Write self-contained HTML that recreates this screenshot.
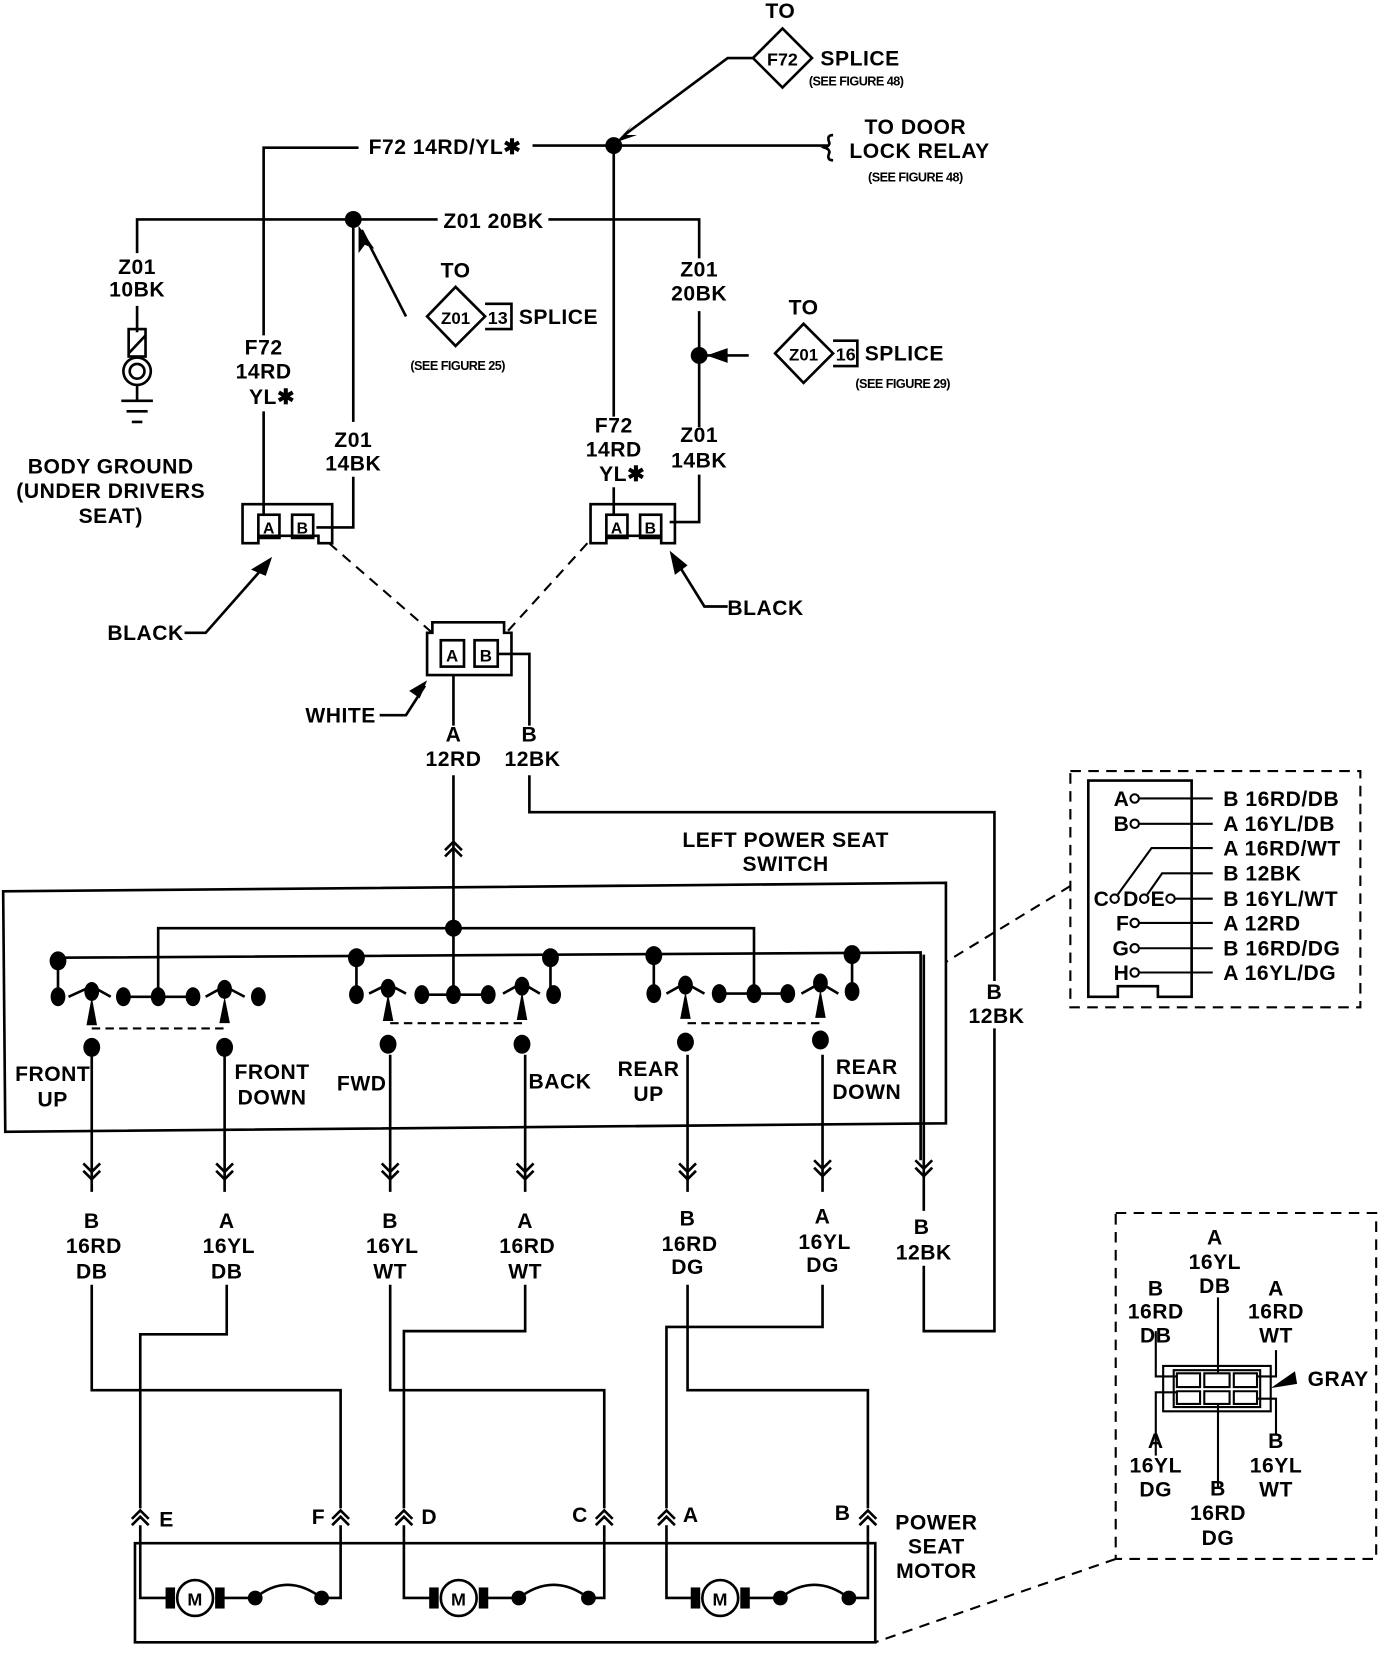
<!DOCTYPE html>
<html><head><meta charset="utf-8"><style>
html,body{margin:0;padding:0;background:#fff}
svg{display:block}
text{font-family:"Liberation Sans Narrow","Liberation Sans",sans-serif;font-size:20px;font-weight:bold;fill:#000;text-anchor:middle;letter-spacing:0.5px}
.s{font-size:12px;font-weight:bold;letter-spacing:-0.5px}
.l{text-anchor:start}
.e{text-anchor:end}
</style></head><body>
<svg width="1392" height="1656" viewBox="0 0 1320 1570" preserveAspectRatio="none" xmlns="http://www.w3.org/2000/svg">
<g fill="none" stroke="#000" stroke-width="2.5">
<path d="M742 27 L770 55 L742 83 L714 55 Z"/>
<path d="M714 55 H690 L592 128"/>
<path d="M250 488 V390 M250 318 V140 H340 M505 138 H785"/>
<path d="M790 128 q-6 0 -4 6 q2 4 -4 6 q6 2 4 6 q-2 6 4 6"/>
<path d="M582 138 V395 M582 462 V488"/>
<path d="M130 240 V208 H415 M520 208 H663 V245 M663 295 V405 M663 450 V495 H635"/>
<path d="M335 208 V400 M335 452 V500 H300"/>
<path d="M385 300 L343 218"/>
<path d="M405 300 L432 272 L460 300 L432 328 Z M460 288 H485 V312 H460"/>
<path d="M710 337 H670"/>
<path d="M735 335 L762 307 L790 335 L762 363 Z M790 323 H813 V347 H790"/>
<path d="M130 290 V315 M130 365 V380 M115 380 H145 M120 390 H140 M125 400 H135"/>
<rect x="122" y="312" width="16" height="26"/>
<path d="M122 335 L138 318"/>
<circle cx="130" cy="352" r="13"/><circle cx="130" cy="352" r="7"/>
<path d="M230 478 H315 V515 H302 V508 H245 V515 H230 Z"/>
<rect x="245" y="488" width="20" height="22"/><rect x="277" y="488" width="20" height="22"/>
<path d="M560 478 H640 V515 H627 V508 H575 V515 H560 Z"/>
<rect x="575" y="488" width="20" height="22"/><rect x="607" y="488" width="20" height="22"/>
<path d="M405 600 H410 V590 H478 V600 H485 V640 H405 Z"/>
<rect x="418" y="607" width="22" height="25"/><rect x="450" y="607" width="22" height="25"/>
<path d="M312 515 L410 600 M557 515 L480 600 M1015 840 L897 912 M1058 1478 L830 1557 M1015 731 H1290 V955 H1015 Z M1058 1150 H1305 V1478 H1058 Z" stroke-dasharray="10 7" stroke-width="2"/>
<path d="M175 600 H195 L255 532 M690 575 H668 L637 525 M360 678 H385 L403 650"/>
<path d="M430 640 V688 M430 735 V840 M472 620 H502 V688 M502 735 V770 H943 V930 M943 975 V1262 H876 V1200 M876 1148 V1062 V905"/>
<path d="M422 806 L430 798 L438 806 M422 812 L430 804 L438 812"/>
<path d="M3 845 L897 837 V1065 L5 1073 Z"/>
<path d="M430 840 V942 M150 945 V880 H715 V942"/>
<path d="M55 908 L873 903 V1100 M55 908 V942 M338 908 V942 M522 908 V942 M620 905 V942 M808 905 V942"/>
<path d="M117 945 H183 M400 943 H463 M682 942 H747"/>
<path d="M87 1000 V1130 M213 1000 V1130 M370 1000 V1130 M498 1000 V1130 M652 1000 V1130 M780 1000 V1130"/>
<path d="M87 975 H213 M370 970 H495 M652 970 H778" stroke-dasharray="8 5" stroke-width="2"/>
<path d="M65 945 L87 935 L105 945 M195 945 L213 935 L232 945 M350 942 L368 933 L385 942 M477 942 L495 932 L512 942 M632 942 L650 932 L668 942 M760 942 L778 932 L795 942"/>
<path d="M79 1103 L87 1111 L95 1103 M79 1110 L87 1118 L95 1110 M205 1103 L213 1111 L221 1103 M205 1110 L213 1118 L221 1110 M362 1103 L370 1111 L378 1103 M362 1110 L370 1118 L378 1110 M490 1103 L498 1111 L506 1103 M490 1110 L498 1118 L506 1110 M644 1103 L652 1111 L660 1103 M644 1110 L652 1118 L660 1110 M772 1100 L780 1108 L788 1100 M772 1107 L780 1115 L788 1107 M868 1100 L876 1108 L884 1100 M868 1107 L876 1115 L884 1107"/>
<path d="M87 1218 V1318 H323 V1430 M215 1218 V1265 H133 V1430 M370 1218 V1318 H573 V1430 M498 1218 V1262 H383 V1430 M652 1218 V1318 H823 V1430 M780 1218 V1258 H632 V1430"/>
<path d="M125 1440 L133 1432 L141 1440 M125 1446 L133 1438 L141 1446 M315 1440 L323 1432 L331 1440 M315 1446 L323 1438 L331 1446 M375 1440 L383 1432 L391 1440 M375 1446 L383 1438 L391 1446 M565 1440 L573 1432 L581 1440 M565 1446 L573 1438 L581 1446 M624 1440 L632 1432 L640 1440 M624 1446 L632 1438 L640 1446 M815 1440 L823 1432 L831 1440 M815 1446 L823 1438 L831 1446"/>
<path d="M128 1463 H830 V1557 H128 Z"/>
<path d="M133 1446 V1515 H160 M210 1515 H242 Q272 1490 305 1515 H323 V1446 M383 1446 V1515 H410 M460 1515 H492 Q525 1490 558 1515 H573 V1446 M632 1446 V1515 H658 M708 1515 H740 Q772 1490 805 1515 H823 V1446"/>
<circle cx="185" cy="1515" r="17"/><circle cx="435" cy="1515" r="17"/><circle cx="683" cy="1515" r="17"/>
<path d="M1032 740 H1130 V945 H1098 V935 H1060 V945 H1032 Z"/>
<path d="M1080 757 H1150 M1080 781 H1150 M1060 848 L1092 804 H1150 M1088 848 L1102 828 H1150 M1114 852 H1150 M1080 875 H1150 M1080 899 H1150 M1080 922 H1150" stroke-width="2"/>
<path d="M1103 1295 H1205 V1338 H1103 Z M1113 1299 H1195 V1334 H1113 Z M1116 1302 H1138 V1315 H1116 Z M1142 1302 H1166 V1315 H1142 Z M1170 1302 H1192 V1315 H1170 Z M1116 1319 H1138 V1331 H1116 Z M1142 1319 H1166 V1331 H1142 Z M1170 1319 H1192 V1331 H1170 Z" stroke-width="2"/>
<path d="M1155 1230 V1302 M1155 1331 V1410 M1096 1262 V1305 H1116 M1210 1280 V1305 H1192 M1096 1380 V1320 H1116 M1210 1360 V1326 H1192" stroke-width="2"/>
</g>
<g fill="#000">
<circle cx="582" cy="138" r="8"/><circle cx="335" cy="208" r="8"/><circle cx="663" cy="337" r="8"/>
<polygon points="584,135 600,118 592,128 604,128"/>
<polygon points="340,214 355,236 346,232 340,240"/>
<polygon points="670,337 690,330 690,344"/>
<polygon points="258,528 238,540 252,546"/>
<polygon points="635,522 640,545 652,536"/>
<polygon points="405,645 388,655 398,662"/>
<polygon points="1205,1316 1228,1300 1230,1312"/>
<circle cx="430" cy="880" r="8"/>
<ellipse cx="55" cy="911" rx="8" ry="9"/><ellipse cx="338" cy="908" rx="8" ry="9"/><ellipse cx="522" cy="908" rx="8" ry="9"/><ellipse cx="620" cy="906" rx="8" ry="9"/><ellipse cx="808" cy="905" rx="8" ry="9"/>
<ellipse cx="55" cy="945" rx="7" ry="9"/><ellipse cx="87" cy="940" rx="7" ry="9"/><ellipse cx="117" cy="945" rx="7" ry="9"/><ellipse cx="150" cy="945" rx="7" ry="9"/><ellipse cx="183" cy="945" rx="7" ry="9"/><ellipse cx="213" cy="938" rx="7" ry="9"/><ellipse cx="245" cy="945" rx="7" ry="9"/>
<ellipse cx="338" cy="943" rx="7" ry="9"/><ellipse cx="368" cy="937" rx="7" ry="9"/><ellipse cx="400" cy="943" rx="7" ry="9"/><ellipse cx="430" cy="943" rx="7" ry="9"/><ellipse cx="463" cy="943" rx="7" ry="9"/><ellipse cx="495" cy="935" rx="7" ry="9"/><ellipse cx="525" cy="943" rx="7" ry="9"/>
<ellipse cx="620" cy="942" rx="7" ry="9"/><ellipse cx="650" cy="934" rx="7" ry="9"/><ellipse cx="682" cy="942" rx="7" ry="9"/><ellipse cx="715" cy="942" rx="7" ry="9"/><ellipse cx="747" cy="942" rx="7" ry="9"/><ellipse cx="778" cy="932" rx="7" ry="9"/><ellipse cx="808" cy="940" rx="7" ry="9"/>
<ellipse cx="87" cy="993" rx="8" ry="9"/><ellipse cx="213" cy="993" rx="8" ry="9"/><ellipse cx="368" cy="990" rx="8" ry="9"/><ellipse cx="495" cy="990" rx="8" ry="9"/><ellipse cx="650" cy="988" rx="8" ry="9"/><ellipse cx="778" cy="986" rx="8" ry="9"/>
<polygon points="87,945 82,972 92,972"/><polygon points="213,945 208,970 218,970"/><polygon points="368,942 363,968 373,968"/><polygon points="495,940 490,967 500,967"/><polygon points="650,940 645,966 655,966"/><polygon points="778,938 773,965 783,965"/>
<circle cx="242" cy="1515" r="7"/><circle cx="305" cy="1515" r="7"/><circle cx="492" cy="1515" r="7"/><circle cx="558" cy="1515" r="7"/><circle cx="740" cy="1515" r="7"/><circle cx="805" cy="1515" r="7"/>
<rect x="157" y="1505" width="9" height="20"/><rect x="204" y="1505" width="9" height="20"/><rect x="407" y="1505" width="9" height="20"/><rect x="454" y="1505" width="9" height="20"/><rect x="655" y="1505" width="9" height="20"/><rect x="702" y="1505" width="9" height="20"/>
</g>
<g fill="#fff" stroke="#000" stroke-width="2">
<circle cx="1076" cy="757" r="4"/><circle cx="1076" cy="781" r="4"/><circle cx="1057" cy="852" r="4"/><circle cx="1085" cy="852" r="4"/><circle cx="1110" cy="852" r="4"/><circle cx="1076" cy="875" r="4"/><circle cx="1076" cy="899" r="4"/><circle cx="1076" cy="922" r="4"/>
</g>
<text x="185" y="1522" style="font-size:17px">M</text><text x="435" y="1522" style="font-size:17px">M</text><text x="683" y="1522" style="font-size:17px">M</text>
<text x="740" y="17">TO</text>
<text x="742" y="62" style="font-size:17px;letter-spacing:0">F72</text>
<text class="l" x="778" y="62">SPLICE</text>
<text class="s l" x="767" y="81">(SEE FIGURE 48)</text>
<text x="422" y="146">F72 14RD/YL✱</text>
<text x="868" y="127">TO DOOR</text>
<text x="872" y="150">LOCK RELAY</text>
<text class="s" x="868" y="172">(SEE FIGURE 48)</text>
<text x="468" y="216">Z01 20BK</text>
<text x="130" y="260">Z01</text><text x="130" y="281">10BK</text>
<text x="250" y="336">F72</text><text x="250" y="359">14RD</text><text x="258" y="383">YL✱</text>
<text x="335" y="424">Z01</text><text x="335" y="446">14BK</text>
<text x="432" y="263">TO</text>
<text x="432" y="307" style="font-size:16px;letter-spacing:0">Z01</text>
<text x="472" y="307" style="font-size:17px;letter-spacing:0">13</text>
<text class="l" x="492" y="307">SPLICE</text>
<text class="s" x="434" y="351">(SEE FIGURE 25)</text>
<text x="582" y="410">F72</text><text x="582" y="433">14RD</text><text x="590" y="456">YL✱</text>
<text x="663" y="262">Z01</text><text x="663" y="285">20BK</text>
<text x="762" y="298">TO</text>
<text x="762" y="342" style="font-size:16px;letter-spacing:0">Z01</text>
<text x="802" y="342" style="font-size:17px;letter-spacing:0">16</text>
<text class="l" x="820" y="342">SPLICE</text>
<text class="s" x="856" y="368">(SEE FIGURE 29)</text>
<text x="663" y="419">Z01</text><text x="663" y="443">14BK</text>
<text x="105" y="449">BODY GROUND</text><text x="105" y="472">(UNDER DRIVERS</text><text x="105" y="496">SEAT)</text>
<text x="255" y="506" style="font-size:15px">A</text><text x="287" y="506" style="font-size:15px">B</text>
<text x="585" y="506" style="font-size:15px">A</text><text x="617" y="506" style="font-size:15px">B</text>
<text x="429" y="627" style="font-size:16px">A</text><text x="461" y="627" style="font-size:16px">B</text>
<text x="138" y="607">BLACK</text>
<text x="726" y="583">BLACK</text>
<text x="323" y="685">WHITE</text>
<text x="430" y="703">A</text><text x="430" y="726">12RD</text>
<text x="502" y="703">B</text><text x="505" y="726">12BK</text>
<text x="745" y="803">LEFT POWER SEAT</text><text x="745" y="826">SWITCH</text>
<text x="943" y="947">B</text><text x="945" y="970">12BK</text>
<text x="50" y="1025">FRONT</text><text x="50" y="1049">UP</text>
<text x="258" y="1023">FRONT</text><text x="258" y="1047">DOWN</text>
<text x="343" y="1034">FWD</text>
<text x="531" y="1032">BACK</text>
<text x="615" y="1020">REAR</text><text x="615" y="1044">UP</text>
<text x="822" y="1018">REAR</text><text x="822" y="1042">DOWN</text>
<text x="87" y="1164">B</text><text x="89" y="1188">16RD</text><text x="87" y="1212">DB</text>
<text x="215" y="1164">A</text><text x="217" y="1188">16YL</text><text x="215" y="1212">DB</text>
<text x="370" y="1164">B</text><text x="372" y="1188">16YL</text><text x="370" y="1212">WT</text>
<text x="498" y="1164">A</text><text x="500" y="1188">16RD</text><text x="498" y="1212">WT</text>
<text x="652" y="1162">B</text><text x="654" y="1186">16RD</text><text x="652" y="1208">DG</text>
<text x="780" y="1160">A</text><text x="782" y="1184">16YL</text><text x="780" y="1206">DG</text>
<text x="874" y="1170">B</text><text x="876" y="1194">12BK</text>
<text x="158" y="1447">E</text><text x="302" y="1445">F</text><text x="407" y="1445">D</text><text x="550" y="1443">C</text><text x="655" y="1443">A</text><text x="799" y="1441">B</text>
<text x="888" y="1450">POWER</text><text x="888" y="1473">SEAT</text><text x="888" y="1496">MOTOR</text>
<text class="e" x="1071" y="764">A</text><text class="e" x="1071" y="788">B</text>
<text class="e" x="1052" y="859">C</text><text class="e" x="1080" y="859">D</text><text class="e" x="1105" y="859">E</text>
<text class="e" x="1071" y="882">F</text><text class="e" x="1071" y="906">G</text><text class="e" x="1071" y="929">H</text>
<text class="l" x="1160" y="764">B 16RD/DB</text>
<text class="l" x="1160" y="788">A 16YL/DB</text>
<text class="l" x="1160" y="811">A 16RD/WT</text>
<text class="l" x="1160" y="835">B 12BK</text>
<text class="l" x="1160" y="859">B 16YL/WT</text>
<text class="l" x="1160" y="882">A 12RD</text>
<text class="l" x="1160" y="906">B 16RD/DG</text>
<text class="l" x="1160" y="929">A 16YL/DG</text>
<text x="1152" y="1180">A</text><text x="1152" y="1203">16YL</text><text x="1152" y="1226">DB</text>
<text x="1096" y="1228">B</text><text x="1096" y="1250">16RD</text><text x="1096" y="1273">DB</text>
<text x="1210" y="1228">A</text><text x="1210" y="1250">16RD</text><text x="1210" y="1273">WT</text>
<text class="l" x="1240" y="1314">GRAY</text>
<text x="1096" y="1373">A</text><text x="1096" y="1396">16YL</text><text x="1096" y="1419">DG</text>
<text x="1210" y="1373">B</text><text x="1210" y="1396">16YL</text><text x="1210" y="1419">WT</text>
<text x="1155" y="1418">B</text><text x="1155" y="1441">16RD</text><text x="1155" y="1465">DG</text>
</svg>
</body></html>
